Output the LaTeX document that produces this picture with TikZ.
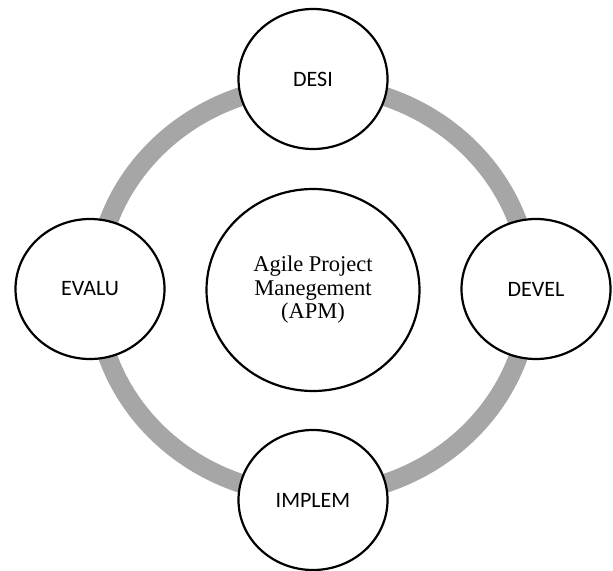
\documentclass[tikz,border=0pt]{standalone}
\usepackage{fontspec}
\setmainfont{Liberation Serif}
\newfontfamily\phasefont{Carlito}
\usetikzlibrary{shapes.geometric}
\usepackage{xcolor}
\definecolor{ringgray}{HTML}{A6A6A6}

\begin{document}
\begin{tikzpicture}[x=1bp, y=-1bp,
 phase/.style={ellipse, draw=black, line width=2.2bp, fill=white, inner sep=0,
   minimum width=149bp, minimum height=140bp, font=\phasefont\fontsize{22bp}{26bp}\selectfont},
 hub/.style={ellipse, draw=black, line width=2.2bp, fill=white, inner sep=0, align=center,
   minimum width=213bp, minimum height=202bp, font=\fontsize{22.5bp}{23.5bp}\selectfont}]
\useasboundingbox (0,0) rectangle (613,571);
\draw[ringgray, line width=19bp] (313,290) ellipse [x radius=217bp, y radius=205bp];
\node[hub] (apm) at (313,290) {Agile Project\\Manegement\\(APM)};
\node[phase] (desi) at (313,79) {DESI};
\node[phase] (devel) at (536,289) {DEVEL};
\node[phase] (implem) at (313,500) {IMPLEM};
\node[phase] (evalu) at (90,289) {EVALU};
\end{tikzpicture}
\end{document}
